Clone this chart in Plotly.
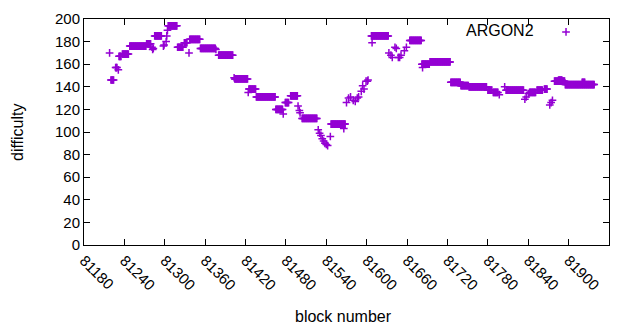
import plotly.graph_objects as go

# Runs of constant difficulty (first block, last block, difficulty)
run_start = [81220, 81227, 81232, 81237, 81248, 81273, 81285, 81305, 81319, 81329,
             81337, 81353, 81380, 81404, 81425, 81436, 81465, 81479, 81487, 81504,
             81547, 81607, 81664, 81682, 81694, 81725, 81740, 81752, 81780, 81788,
             81807, 81842, 81853, 81864, 81879, 81885, 81895, 81920]
run_end = [81224, 81229, 81235, 81246, 81272, 81279, 81295, 81318, 81327, 81333,
           81352, 81375, 81401, 81423, 81435, 81464, 81475, 81484, 81497, 81526,
           81568, 81632, 81681, 81693, 81724, 81739, 81751, 81778, 81786, 81795,
           81833, 81851, 81861, 81868, 81894, 81890, 81938, 81924]
run_value = [146, 157, 167, 169, 176, 178, 185, 194, 175, 179,
             182, 174, 168, 147, 138, 131, 120, 126, 132, 112,
             107, 185, 181, 160, 162, 144, 141, 140, 137, 135,
             137, 135, 137, 138, 145, 146, 142, 144]

# Isolated blocks
single_block = [81218, 81231, 81281, 81282, 81283, 81298, 81299, 81302, 81303, 81304,
                81336, 81376, 81403, 81424, 81476, 81498, 81500, 81501, 81528, 81530,
                81532, 81534, 81536, 81538, 81540, 81542, 81546, 81566, 81570, 81573,
                81576, 81580, 81583, 81586, 81588, 81592, 81594, 81596, 81599, 81601,
                81602, 81608, 81633, 81636, 81638, 81642, 81644, 81647, 81649, 81651,
                81656, 81659, 81683, 81797, 81805, 81835, 81837, 81840, 81872, 81874,
                81876]
single_value = [170, 155, 175, 173, 174, 176, 177, 180, 185, 190,
                170, 173, 148, 135, 116, 123, 119, 117, 102, 99,
                97, 94, 92, 90, 89, 88, 96, 103, 126, 130,
                131, 128, 127, 130, 131, 136, 141, 138, 145, 145,
                146, 179, 170, 168, 166, 175, 174, 166, 166, 168,
                172, 175, 157, 133, 140, 129, 131, 134, 124, 126,
                128]

x_ticks = list(range(81180, 81961, 60))
y_ticks = list(range(0, 201, 20))

blocks, diffs = [], []
for s, e, v in zip(run_start, run_end, run_value):
    for b in range(s, e + 1):
        blocks.append(b)
        diffs.append(v)
blocks += single_block
diffs += single_value

COLOR = "#9400d3"
FONT = "Liberation Sans, Arial, sans-serif"

fig = go.Figure()
fig.add_trace(go.Scatter(
    x=blocks, y=diffs, mode="markers", name=" ",
    marker=dict(symbol="cross-thin", size=5.5, line=dict(width=1.5, color=COLOR), color=COLOR),
    showlegend=True,
))

axis_common = dict(showline=True, linecolor="black", linewidth=1, mirror="ticks",
                   ticks="inside", ticklen=6, tickcolor="black", showgrid=False,
                   zeroline=False, automargin=False,
                   tickfont=dict(family=FONT, size=15, color="black"))

fig.update_layout(
    width=640, height=330,
    margin=dict(l=84, r=31, t=19, b=85, autoexpand=False),
    paper_bgcolor="white", plot_bgcolor="white",
    font=dict(family=FONT, size=16, color="black"),
    xaxis=dict(range=[81180, 81960], tickvals=x_ticks, ticktext=[str(t) for t in x_ticks],
               tickangle=45, **axis_common),
    yaxis=dict(range=[0, 200], tickvals=y_ticks, **axis_common),
    legend=dict(x=(464 - 84) / 525, y=(245 - 32) / 226, xanchor="left", yanchor="middle",
                bgcolor="rgba(0,0,0,0)", borderwidth=0,
                title=dict(text="ARGON2&nbsp;", side="left", font=dict(size=16))),
    annotations=[
        dict(text="difficulty", x=(17 - 84) / 525, y=0.5, xref="paper", yref="paper",
             textangle=-90, showarrow=False, xanchor="center", yanchor="middle",
             font=dict(size=16)),
        dict(text="block number", x=(343 - 84) / 525, y=(245 - 316) / 226,
             xref="paper", yref="paper", showarrow=False, xanchor="center",
             yanchor="middle", font=dict(size=16)),
    ],
)

fig.write_html("out.html", config={"displayModeBar": False},
               post_script="document.body.style.margin='0';")
